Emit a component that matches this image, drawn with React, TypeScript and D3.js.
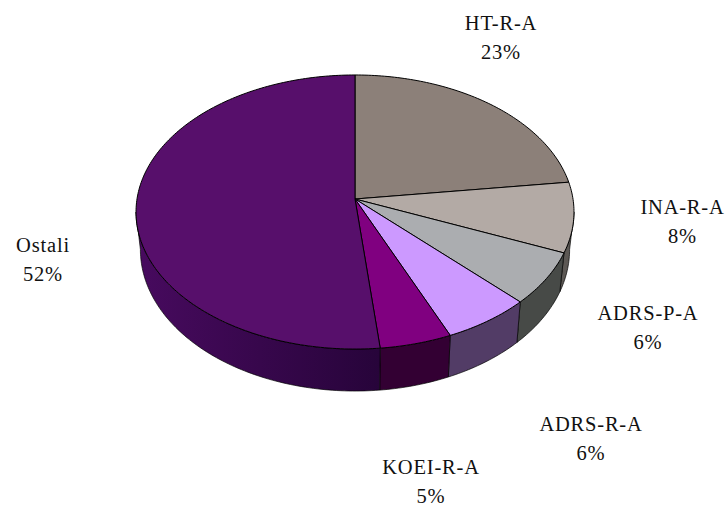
import React from "react";
import * as d3 from "d3";

const categories = ["HT-R-A", "INA-R-A", "ADRS-P-A", "ADRS-R-A", "KOEI-R-A", "Ostali"];
const values = [23, 8.25, 6.25, 5.97, 4.86, 51.67];
const percentLabels = ["23%", "8%", "6%", "6%", "5%", "52%"];
const topColors = ["#8c8079", "#b3aaa5", "#abadb0", "#cc99ff", "#800080", "#570f6b"];
const sideColors = ["#4a4440", "#5c5854", "#474a47", "#523c66", "#330033", "url(#ostaliSide)"];
const labelCenters: [number, number][] = [[501, 30], [682.5, 214], [648, 320], [591, 431], [431, 474], [43, 252]];

const W = 727, H = 507;
const cx = 355, apexY = 199, a = 218, b = 135.8, k = 0.0949;
const tFront0 = Math.acos(-k), tFront1 = 2 * Math.PI - Math.acos(-k);

const project = (t: number): [number, number] => {
  const X = Math.sin(t), Y = -Math.cos(t), d = 1 - k * Y;
  return [cx + (a * X) / d, apexY + (b * Y) / d];
};
const projectLow = (t: number): [number, number] => {
  const [x, y] = project(t);
  return [cx + (x - cx) * 0.98, y + 37 + 5 * -Math.cos(t)];
};
const samples = (t0: number, t1: number) => {
  const n = Math.max(2, Math.ceil((t1 - t0) * 60));
  return d3.range(n + 1).map((i) => t0 + ((t1 - t0) * i) / n);
};
const line = d3.line<[number, number]>().x((d) => d[0]).y((d) => d[1]);

export default function App() {
  const arcs = d3.pie<number>().sort(null).startAngle(0).endAngle(2 * Math.PI)(values);
  return (
    <svg width={W} height={H} style={{ position: "absolute", left: 0, top: 0, background: "#fff" }}>
      <defs>
        <linearGradient id="ostaliSide" gradientUnits="userSpaceOnUse" x1={140} y1={0} x2={380} y2={0}>
          <stop offset="0" stopColor="#470a5e" />
          <stop offset="1" stopColor="#27043a" />
        </linearGradient>
      </defs>
      {arcs.map((s, i) => {
        const t0 = Math.max(s.startAngle, tFront0), t1 = Math.min(s.endAngle, tFront1);
        if (t1 <= t0) return null;
        const ts = samples(t0, t1);
        const pts = [...ts.map(project), ...ts.slice().reverse().map(projectLow)];
        return <path key={"side" + i} d={line(pts) + "Z"} fill={sideColors[i]} stroke="#000" strokeWidth={0.8} strokeOpacity={0.85} />;
      })}
      {arcs.map((s, i) => {
        const pts: [number, number][] = [[cx, apexY], ...samples(s.startAngle, s.endAngle).map(project)];
        return <path key={"top" + i} d={line(pts) + "Z"} fill={topColors[i]} stroke="#000" strokeWidth={1} strokeLinejoin="round" />;
      })}
      <g fontFamily="'Liberation Serif', serif" fontSize={20.5} fill="#111" textAnchor="middle" style={{ letterSpacing: "0.8px" }}>
        {categories.map((c, i) => (
          <g key={c}>
            <text x={labelCenters[i][0]} y={labelCenters[i][1]}>{c}</text>
            <text x={labelCenters[i][0]} y={labelCenters[i][1] + 29}>{percentLabels[i]}</text>
          </g>
        ))}
      </g>
    </svg>
  );
}
